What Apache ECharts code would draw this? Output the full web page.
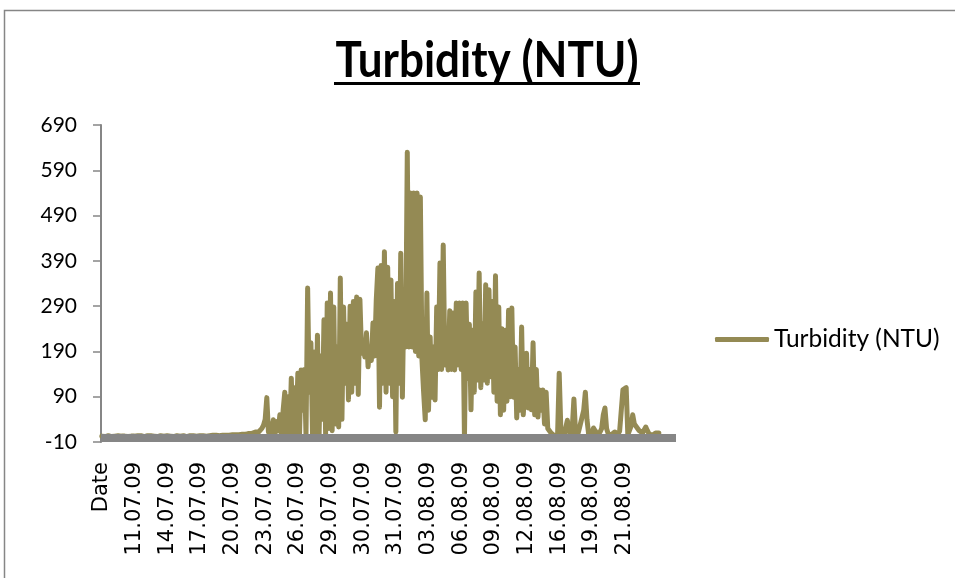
<!DOCTYPE html>
<html><head><meta charset="utf-8">
<script src="https://cdn.jsdelivr.net/npm/echarts@6/dist/echarts.min.js"></script>
<style>html,body{margin:0;padding:0;background:#fff}#c{width:955px;height:578px}</style>
</head><body><div id="c"></div>
<script>
const titleText = "Turbidity (NTU)";
const seriesName = "Turbidity (NTU)";
const tickLabels = ["Date","11.07.09","14.07.09","17.07.09","20.07.09","23.07.09","26.07.09","29.07.09","30.07.09","31.07.09","03.08.09","06.08.09","09.08.09","12.08.09","16.08.09","19.08.09","21.08.09"];
const labelStep = 20;
const totalCategories = 352;
const yMin = -10, yMax = 690, yStep = 100;
const turbidity = [
3,4,2,3,4,3,2,4,3,3,4,2,3,4,3,3,2,4,3,4,
3,4,4,3,4,3,2,3,4,3,4,3,3,4,2,3,4,3,3,4,
4,3,3,4,2,3,4,4,3,3,4,3,2,3,4,3,4,3,3,4,
4,3,4,4,3,5,4,4,5,4,5,5,4,5,5,4,5,6,5,5,
6,5,6,7,6,7,7,8,7,8,9,8,9,
10,12,13,12,15,20,27,
40,88,12,30,10,39,8,35,15,50,
5,60,100,8,90,3,131,5,110,10,
142,3,149,60,150,5,330,100,209,5,
189,10,226,3,180,40,260,8,297,20,
319,15,288,30,200,23,352,40,288,120,
250,83,290,100,300,120,310,95,305,186,
204,178,231,156,200,170,253,180,303,374,
67,380,120,410,100,376,120,348,90,300,
12,340,120,407,89,326,200,630,200,540,
200,540,190,540,180,531,171,100,39,319,
60,222,89,200,83,288,150,385,150,425,
160,237,149,280,150,275,149,297,160,297,
150,297,-1,297,130,250,61,237,100,321,
127,363,110,250,127,337,120,326,134,300,
100,357,80,288,50,240,60,237,80,281,
90,286,89,200,43,150,60,244,50,111,
186,65,150,61,209,50,150,45,105,60,
105,30,100,20,16,10,6,4,3,5,
142,20,10,5,3,38,15,3,20,85,
10,2,15,30,45,60,100,40,8,12,
10,21,15,10,14,12,20,50,65,20,
8,10,6,8,12,10,8,14,12,105,
108,110,6,10,25,50,30,34,20,15,
16,10,12,23,15,8,10,5,8,10,12,10
];

const categories = [];
for (let i = 0; i < totalCategories; i++) {
  const k = i / labelStep;
  categories.push(i % labelStep === 0 && tickLabels[k] !== undefined ? tickLabels[k] : '');
}
const values = turbidity.slice();
while (values.length < totalCategories) values.push(null);

const chart = echarts.init(document.getElementById('c'), null, {renderer: 'canvas'});
chart.setOption({
  animation: false,
  backgroundColor: '#ffffff',
  graphic: [
    {type: 'rect', shape: {x: 4.5, y: 10.5, width: 1100, height: 1000}, style: {fill: 'none', stroke: '#868686', lineWidth: 1.5}, silent: true, z: -1},
    {type: 'text', x: 487, y: 36, scaleX: 0.88, silent: true,
      style: {text: titleText, fontFamily: 'Lato', fontWeight: 'bold', fontSize: 50, fill: '#000', align: 'center', verticalAlign: 'top'}},
    {type: 'rect', shape: {x: 334, y: 82, width: 306, height: 3}, style: {fill: '#000'}, silent: true}
  ],
  legend: {
    data: [seriesName],
    left: 715,
    top: 327,
    padding: 0,
    icon: 'roundRect',
    itemWidth: 54,
    itemHeight: 5,
    textStyle: {fontFamily: 'Lato', fontSize: 24.5, lineHeight: 24, color: '#000'}
  },
  grid: {left: 101, right: 279, top: 125, bottom: 136, containLabel: false},
  xAxis: {
    type: 'category',
    data: categories,
    boundaryGap: true,
    z: 5,
    axisLine: {show: true, lineStyle: {color: '#868686', width: 8, cap: 'butt'}},
    axisTick: {show: false},
    axisLabel: {
      interval: function (idx) { return idx % labelStep === 0; },
      rotate: 90,
      margin: 20,
      fontFamily: 'DejaVu Sans',
      fontSize: 21,
      color: '#000'
    },
    splitLine: {show: false}
  },
  yAxis: {
    type: 'value',
    min: yMin,
    max: yMax,
    interval: yStep,
    axisLine: {show: true, lineStyle: {color: '#868686', width: 2}},
    axisTick: {show: true, length: 8, lineStyle: {color: '#868686', width: 1.5}},
    axisLabel: {margin: 24, fontFamily: 'Lato', fontSize: 21, color: '#000'},
    splitLine: {show: false}
  },
  series: [{
    name: seriesName,
    type: 'line',
    data: values,
    showSymbol: false,
    symbol: 'none',
    connectNulls: false,
    color: '#948A54',
    lineStyle: {width: 5, color: '#948A54', cap: 'round', join: 'round'}
  }]
});
</script>
</body></html>
